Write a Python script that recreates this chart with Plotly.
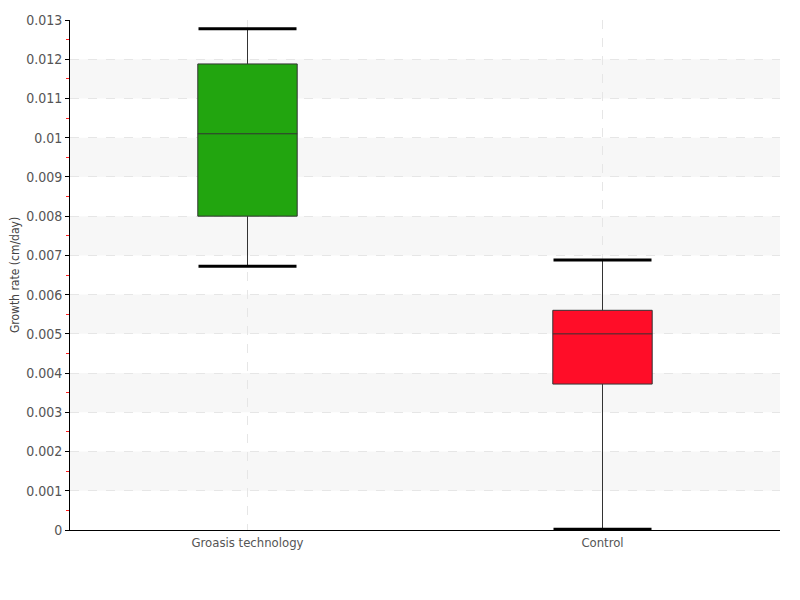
import plotly.graph_objects as go

groups = ["Groasis technology", "Control"]
colors = ["#22a50f", "#ff0d28"]
lower = [0.00672, 0.00002]
q1 = [0.00800, 0.00372]
median = [0.01010, 0.00500]
q3 = [0.01188, 0.00560]
upper = [0.01278, 0.00688]

font = "Liberation Sans Narrow, DejaVu Sans Condensed, sans-serif"

fig = go.Figure()
for i, g in enumerate(groups):
    fig.add_trace(go.Box(
        x=[g], q1=[q1[i]], median=[median[i]], q3=[q3[i]],
        lowerfence=[lower[i]], upperfence=[upper[i]],
        fillcolor=colors[i], line=dict(color="#333333", width=1),
        whiskerwidth=0, width=0.28, showlegend=False,
    ))
# thick black whisker caps
fig.add_trace(go.Scatter(
    x=groups + groups, y=lower + upper, mode="markers",
    marker=dict(symbol="line-ew", size=70, color="black",
                line=dict(color="black", width=3)),
    showlegend=False, hoverinfo="skip",
))

# alternating light bands
shapes = []
for k in range(1, 13, 2):
    shapes.append(dict(type="rect", xref="paper", yref="y", x0=0, x1=1,
                       y0=k * 0.001, y1=(k + 1) * 0.001,
                       fillcolor="#f7f7f7", line_width=0, layer="below"))

fig.update_layout(
    width=800, height=600,
    plot_bgcolor="white", paper_bgcolor="white",
    margin=dict(l=62, r=28, t=12, b=78),
    font=dict(family=font, size=13, color="#555"),
    shapes=shapes,
    xaxis=dict(
        range=[-0.5, 1.5], showline=True, linecolor="black", linewidth=1,
        showgrid=True, gridcolor="#e6e6e6", griddash="dash", automargin=False,
        ticks="", tickfont=dict(size=13, color="#555"),
    ),
    yaxis=dict(
        range=[0, 0.013], dtick=0.001, showline=True, linecolor="black",
        linewidth=1, ticks="outside", ticklen=4, tickcolor="black",
        showgrid=True, gridcolor="#e6e6e6", griddash="dash", zeroline=False,
        automargin=False, tickfont=dict(size=14, color="#555"),
        minor=dict(dtick=0.0005, ticks="outside", ticklen=3, tickwidth=1,
                   tickcolor="#ff2020", showgrid=False),
        title=dict(text="Growth rate (cm/day)", font=dict(size=12, color="#444"),
                   standoff=12),
    ),
)

fig.write_html("out.html")
